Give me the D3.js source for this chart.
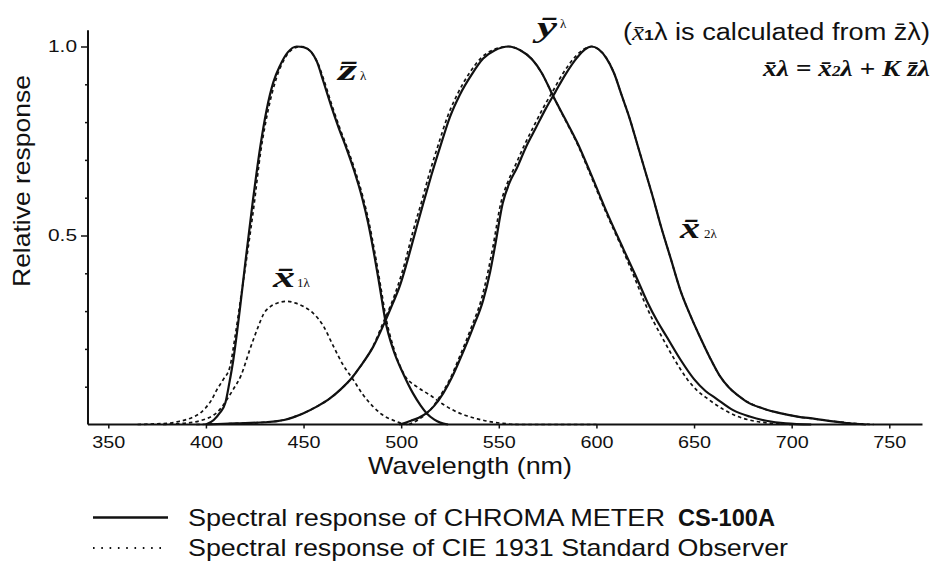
<!DOCTYPE html>
<html lang="en">

<head>
	<meta charset="utf-8">
	<title>spectral response</title>
	<style>
		html,
		body {
			margin: 0;
			padding: 0;
			background: #ffffff;
		}

		svg {
			display: block;
		}
	</style>
</head>

<body>
	<script src="https://cdn.jsdelivr.net/npm/d3@7"></script>
	<script>

		// axis ticks
		const wavelengthTicks = [350, 400, 450, 500, 550, 600, 650, 700, 750];
		const responseTicks = [0.5, 1.0];
		const responseMinorTicks = [0.1, 0.2, 0.3, 0.4, 0.6, 0.7, 0.8, 0.9];

		// CHROMA METER CS-100A, [wavelength nm, relative response]
		const meterZ = [[400, 0], [404, 0.012], [407, 0.03], [410, 0.058], [412, 0.11], [414, 0.17], [417.5, 0.31], [420, 0.42], [424, 0.59], [428, 0.74], [431, 0.83], [434.5, 0.905], [438, 0.95], [442, 0.985], [446.5, 1.0], [450, 0.998], [454, 0.985], [457, 0.958], [460, 0.91], [464, 0.845], [468, 0.785], [472, 0.73], [476, 0.67], [480, 0.6], [483, 0.535], [486, 0.455], [489, 0.365], [492, 0.272], [496, 0.197], [501, 0.135], [506, 0.083], [510, 0.05], [513, 0.03], [517, 0.013], [520, 0.005], [524, 0]];
		const meterY = [[400, 0], [415, 0.003], [430, 0.006], [440, 0.012], [450, 0.03], [457, 0.048], [463.5, 0.069], [469, 0.093], [475, 0.125], [479, 0.153], [485.7, 0.206], [491.7, 0.272], [495.5, 0.318], [499.4, 0.368], [502.8, 0.426], [507, 0.505], [511.3, 0.585], [515.5, 0.66], [520, 0.735], [525, 0.814], [530, 0.872], [536, 0.925], [542, 0.968], [548, 0.99], [555, 1.0], [561, 0.99], [567, 0.966], [572, 0.93], [578, 0.867], [584, 0.808], [590, 0.748], [597, 0.665], [605, 0.565], [614, 0.462], [620, 0.395], [626, 0.325], [631, 0.275], [636, 0.232], [643, 0.172], [650, 0.12], [656, 0.088], [661, 0.07], [670, 0.038], [678.5, 0.021], [687, 0.01], [697, 0.003], [710, 0]];
		const meterX2 = [[499, 0], [505, 0.01], [509, 0.018], [513, 0.03], [517, 0.05], [521.6, 0.083], [526, 0.125], [530, 0.171], [534, 0.22], [537, 0.259], [542, 0.329], [545.6, 0.405], [548, 0.47], [552, 0.585], [555.5, 0.64], [559.2, 0.678], [564, 0.735], [569, 0.785], [574, 0.835], [579, 0.88], [584, 0.925], [590, 0.97], [594, 0.992], [597.5, 1.0], [601, 0.993], [605, 0.97], [609, 0.93], [613, 0.87], [617, 0.81], [621, 0.74], [625, 0.67], [629, 0.6], [633, 0.525], [638, 0.44], [643, 0.355], [648, 0.29], [653, 0.232], [658, 0.178], [663, 0.13], [668, 0.097], [673, 0.075], [677, 0.06], [685, 0.043], [694, 0.03], [703, 0.021], [712, 0.015], [720, 0.009], [728, 0.004], [738, 0]];

		// CIE 1931 Standard Observer
		const cieZ = [[365, 0], [375, 0.002], [382, 0.004], [386, 0.008], [390, 0.013], [394, 0.021], [397, 0.03], [400, 0.045], [403, 0.066], [405.5, 0.091], [409, 0.12], [412.3, 0.153], [415, 0.235], [418, 0.34], [421, 0.445], [424.5, 0.575], [428, 0.72], [432, 0.835], [436, 0.915], [440, 0.965], [445, 0.995], [449, 1.0], [453, 0.99], [457, 0.96], [460.5, 0.91], [464.5, 0.845], [468.5, 0.785], [472.5, 0.73], [476.5, 0.67], [480.5, 0.6], [483.5, 0.535], [486.5, 0.455], [489.5, 0.365], [492.5, 0.275], [496, 0.205], [499, 0.16], [502, 0.128], [508, 0.1], [515, 0.077], [521, 0.055], [527, 0.037], [533, 0.024], [539, 0.015], [545, 0.008], [552, 0.003], [560, 0], [600, 0]];
		const cieX1 = [[378, 0], [385, 0.002], [392, 0.005], [397, 0.01], [400, 0.015], [404, 0.025], [408, 0.045], [411, 0.068], [414, 0.093], [418, 0.13], [422.6, 0.2], [426.8, 0.259], [429.5, 0.292], [433, 0.312], [437, 0.322], [441.4, 0.326], [446, 0.321], [450, 0.312], [455, 0.294], [460, 0.262], [465, 0.21], [470, 0.16], [475.5, 0.118], [480, 0.082], [485.7, 0.047], [490, 0.027], [496, 0.011], [501, 0.002], [505, 0]];
		const cieY = [[395, 0], [410, 0.002], [430, 0.006], [440, 0.012], [450, 0.03], [457, 0.048], [463.5, 0.069], [469, 0.093], [475, 0.125], [479, 0.153], [485.5, 0.206], [491, 0.272], [495, 0.32], [498.5, 0.37], [502, 0.43], [506, 0.51], [510.5, 0.59], [514.5, 0.665], [519, 0.74], [524, 0.818], [529, 0.876], [535, 0.93], [541, 0.97], [548, 0.993], [555, 1.0], [561, 0.99], [567, 0.966], [572, 0.93], [578, 0.867], [584, 0.806], [590, 0.745], [597, 0.66], [605, 0.56], [613.5, 0.462], [619, 0.395], [624.5, 0.325], [629, 0.275], [633.5, 0.232], [640, 0.172], [646.5, 0.12], [652, 0.088], [657, 0.068], [665, 0.04], [672, 0.022], [680, 0.01], [690, 0.003], [700, 0]];
		const cieX2 = [[504, 0], [508, 0.01], [512, 0.025], [516, 0.045], [520.5, 0.08], [525, 0.12], [529, 0.168], [533, 0.218], [536, 0.258], [541, 0.33], [544.5, 0.405], [547, 0.47], [551, 0.585], [554.5, 0.64], [558, 0.68], [563, 0.738], [568, 0.79], [573, 0.84], [578, 0.885], [583, 0.93], [589, 0.972], [593.5, 0.993], [597.5, 1.0], [601, 0.993], [605, 0.97], [609, 0.93], [613, 0.87], [617, 0.81], [621, 0.74], [625, 0.67], [629, 0.6], [633, 0.525], [638, 0.44], [643, 0.355], [648, 0.29], [653, 0.232], [658, 0.178], [663, 0.13], [668, 0.097], [673, 0.075], [678, 0.058], [686, 0.041], [695, 0.029], [704, 0.02], [713, 0.014], [722, 0.008], [732, 0.003], [742, 0]];

		const ink = "#111111";
		const sans = "'Liberation Sans', Arial, Helvetica, sans-serif";
		const serif = "'Liberation Serif', 'Times New Roman', serif";
		const bar = "\u0304";

		const svg = d3.select("body")
			.append("svg")
			.attr("width", 935)
			.attr("height", 574);

		const x = d3.scaleLinear().domain([350, 750]).range([108.3, 889.3]);
		const y = d3.scaleLinear().domain([0, 1]).range([424.5, 46.5]);

		// axes
		const xAxis = svg.append("g")
			.attr("transform", `translate(0,${y(0)})`)
			.call(d3.axisBottom(x).tickValues(wavelengthTicks).tickSize(4).tickPadding(8));
		xAxis.select(".domain").remove();
		xAxis.selectAll("line").attr("stroke", ink).attr("stroke-width", 1.5);
		xAxis.selectAll("text")
			.attr("fill", ink)
			.attr("font-family", sans)
			.attr("font-size", 16)
			.attr("textLength", 33)
			.attr("lengthAdjust", "spacingAndGlyphs");

		const yAxis = svg.append("g")
			.attr("transform", `translate(${x(339.6)},0)`)
			.call(d3.axisLeft(y).tickValues(responseTicks).tickSize(7).tickPadding(4).tickFormat(d3.format(".1f")));
		yAxis.select(".domain").remove();
		yAxis.selectAll("line").attr("stroke", ink).attr("stroke-width", 1.5);
		yAxis.selectAll("text")
			.attr("fill", ink)
			.attr("font-family", sans)
			.attr("font-size", 16)
			.attr("textLength", 29)
			.attr("lengthAdjust", "spacingAndGlyphs");

		const yMinor = svg.append("g")
			.attr("transform", `translate(${x(339.6)},0)`)
			.call(d3.axisLeft(y).tickValues(responseMinorTicks).tickSize(3).tickFormat(""));
		yMinor.select(".domain").remove();
		yMinor.selectAll("line").attr("stroke", ink).attr("stroke-width", 1.5);

		svg.append("line")
			.attr("x1", x(339.6)).attr("x2", x(767))
			.attr("y1", y(0)).attr("y2", y(0))
			.attr("stroke", ink).attr("stroke-width", 2);
		svg.append("line")
			.attr("x1", x(339.6)).attr("x2", x(339.6))
			.attr("y1", y(0)).attr("y2", y(1.043))
			.attr("stroke", ink).attr("stroke-width", 2);

		// curves
		const line = d3.line()
			.x(d => x(d[0]))
			.y(d => y(d[1]))
			.curve(d3.curveMonotoneX);

		[cieZ, cieX1, cieY, cieX2].forEach(s => {
			svg.append("path")
				.attr("d", line(s))
				.attr("fill", "none")
				.attr("stroke", ink)
				.attr("stroke-width", 1.7)
				.attr("stroke-dasharray", "3.5,3");
		});
		[meterZ, meterY, meterX2].forEach(s => {
			svg.append("path")
				.attr("d", line(s))
				.attr("fill", "none")
				.attr("stroke", ink)
				.attr("stroke-width", 2.2)
				.attr("stroke-linejoin", "round");
		});

		// axis titles
		svg.append("text")
			.attr("x", 368).attr("y", 474)
			.attr("font-family", sans).attr("font-size", 24).attr("fill", ink)
			.attr("textLength", 204).attr("lengthAdjust", "spacingAndGlyphs")
			.text("Wavelength (nm)");
		svg.append("text")
			.attr("transform", "translate(29.5,287) rotate(-90)")
			.attr("font-family", sans).attr("font-size", 24).attr("fill", ink)
			.attr("textLength", 212).attr("lengthAdjust", "spacingAndGlyphs")
			.text("Relative response");

		// curve labels
		function curveLabel(px, py, letter, sub, subX, subY, w) {
			svg.append("text")
				.attr("x", px).attr("y", py)
				.attr("font-family", serif).attr("font-style", "italic").attr("font-weight", "bold")
				.attr("font-size", 30).attr("fill", ink)
				.attr("textLength", w).attr("lengthAdjust", "spacingAndGlyphs")
				.text(letter);
			svg.append("text")
				.attr("x", subX).attr("y", subY)
				.attr("font-family", serif).attr("font-size", 13).attr("fill", ink)
				.text(sub);
		}
		curveLabel(338, 80, "z" + bar, "\u03bb", 360, 80, 19);
		curveLabel(537, 37, "\u0233", "\u03bb", 560, 28, 20);
		curveLabel(680, 238, "x" + bar, "2\u03bb", 704, 238, 20);
		curveLabel(273, 287, "x" + bar, "1\u03bb", 297, 287, 22);

		// note top right
		const note = svg.append("text")
			.attr("x", 623).attr("y", 40)
			.attr("font-family", sans).attr("font-size", 23).attr("fill", ink)
			.attr("textLength", 307).attr("lengthAdjust", "spacingAndGlyphs");
		note.append("tspan").text("(");
		note.append("tspan").attr("font-family", serif).attr("font-style", "italic").text("x" + bar);
		note.append("tspan").attr("font-size", 15).attr("font-weight", "bold").text("1");
		note.append("tspan").text("\u03bb is calculated from z" + bar + "\u03bb)");

		const formula = svg.append("text")
			.attr("x", 763).attr("y", 76)
			.attr("font-family", serif).attr("font-style", "italic").attr("font-weight", "bold")
			.attr("font-size", 24).attr("fill", ink)
			.attr("textLength", 167).attr("lengthAdjust", "spacingAndGlyphs");
		formula.append("tspan").text("x" + bar + "\u03bb = x" + bar);
		formula.append("tspan").attr("font-size", 15).text("2");
		formula.append("tspan").text("\u03bb + K z" + bar + "\u03bb");

		// legend
		svg.append("line")
			.attr("x1", 93).attr("x2", 168).attr("y1", 517.5).attr("y2", 517.5)
			.attr("stroke", ink).attr("stroke-width", 2.5);
		svg.append("line")
			.attr("x1", 93).attr("x2", 162).attr("y1", 548).attr("y2", 548)
			.attr("stroke", ink).attr("stroke-width", 1.8).attr("stroke-dasharray", "1.6,6.7");
		svg.append("text")
			.attr("x", 188).attr("y", 525.5)
			.attr("font-family", sans).attr("font-size", 24).attr("fill", ink)
			.attr("textLength", 477).attr("lengthAdjust", "spacingAndGlyphs")
			.text("Spectral response of CHROMA METER");
		svg.append("text")
			.attr("x", 678).attr("y", 525.5)
			.attr("font-family", sans).attr("font-size", 24).attr("font-weight", "bold").attr("fill", ink)
			.attr("textLength", 97).attr("lengthAdjust", "spacingAndGlyphs")
			.text("CS-100A");
		svg.append("text")
			.attr("x", 188).attr("y", 556)
			.attr("font-family", sans).attr("font-size", 24).attr("fill", ink)
			.attr("textLength", 600).attr("lengthAdjust", "spacingAndGlyphs")
			.text("Spectral response of CIE 1931 Standard Observer");

	</script>
</body>

</html>
